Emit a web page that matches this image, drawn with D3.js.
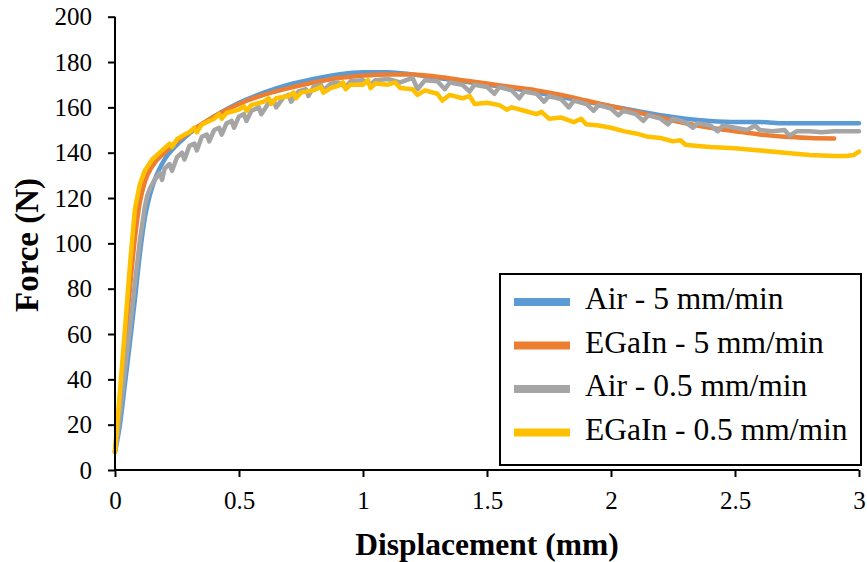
<!DOCTYPE html>
<html><head><meta charset="utf-8">
<script src="https://cdn.jsdelivr.net/npm/d3@7"></script>
<style>html,body{margin:0;padding:0;background:#fff;}svg{display:block;} svg text{font-family:"Liberation Serif","Times New Roman",Times,serif !important;}</style>
</head><body>
<svg id="chart" width="867" height="562"></svg>
<script>
const seriesNames = ["Air - 5 mm/min", "EGaIn - 5 mm/min", "Air - 0.5 mm/min", "EGaIn - 0.5 mm/min"];
const seriesColors = ["#5B9BD5", "#ED7D31", "#A5A5A5", "#FFC000"];
const xTicks = [0, 0.5, 1, 1.5, 2, 2.5, 3];
const yTicks = [0, 20, 40, 60, 80, 100, 120, 140, 160, 180, 200];

const airFast = [[0,8],[0.02,20],[0.04,38],[0.06,56],[0.08,75],[0.10,95],[0.12,111],[0.14,121],[0.16,128],[0.18,133],[0.2,137],[0.25,143.5],[0.3,148.5],[0.4,156],[0.5,162],[0.6,166.5],[0.7,170],[0.8,172.5],[0.9,174.5],[1.0,175.5],[1.1,175.5],[1.2,174.5],[1.3,173],[1.4,171.5],[1.5,170],[1.6,168.5],[1.7,166.5],[1.8,164.5],[1.9,162.5],[2.0,160.5],[2.1,158.5],[2.2,156.5],[2.3,155],[2.4,154],[2.5,153.5],[2.6,153.5],[2.7,153],[2.8,153],[2.9,153],[3.0,153]];
const egainFast = [[0,8],[0.02,30],[0.04,55],[0.06,80],[0.08,102],[0.10,118],[0.12,127],[0.15,134],[0.2,140],[0.25,145],[0.3,149],[0.4,156],[0.5,161.5],[0.6,165.5],[0.7,168.5],[0.8,171],[0.9,173],[1.0,174],[1.1,174.5],[1.2,174.5],[1.3,173.5],[1.4,172],[1.5,170.5],[1.6,169],[1.7,167.5],[1.8,165.5],[1.9,163],[2.0,160.5],[2.1,158],[2.2,155.5],[2.3,153],[2.4,151],[2.5,149.5],[2.6,148],[2.7,147],[2.8,146.5],[2.9,146.3]];
const airSlow = [[0,8],[0.02,24],[0.04,44],[0.06,62],[0.08,82],[0.10,101],[0.12,116],[0.13,121],[0.14,124],[0.16,128],[0.18,131],[0.19,128],[0.2,133],[0.22,135],[0.23,132],[0.25,138],[0.27,140],[0.28,137],[0.3,143],[0.32,144],[0.33,141],[0.35,147],[0.37,148],[0.38,145],[0.4,150],[0.42,151],[0.43,148],[0.45,153],[0.47,154],[0.48,151],[0.5,156],[0.52,157],[0.53,154],[0.55,158.5],[0.58,160],[0.59,157],[0.62,162],[0.64,163],[0.65,160],[0.68,164.5],[0.7,165.5],[0.71,162.5],[0.74,167],[0.77,168],[0.78,165],[0.8,169],[0.83,170],[0.84,167.5],[0.87,170.5],[0.9,171],[0.93,169],[0.95,171.5],[1.0,172],[1.03,170],[1.05,172],[1.1,172.5],[1.15,171],[1.2,173],[1.22,168],[1.25,172],[1.3,171.5],[1.33,168],[1.35,171],[1.4,170],[1.43,167],[1.45,170],[1.5,169],[1.53,166],[1.55,169],[1.6,167.5],[1.63,164],[1.65,167],[1.7,166],[1.73,162.5],[1.75,165],[1.8,163.5],[1.83,160],[1.85,163],[1.9,161.5],[1.93,158.5],[1.95,161],[2.0,159.5],[2.03,156.5],[2.05,158.5],[2.1,157],[2.13,154],[2.15,156.5],[2.2,155],[2.23,152.5],[2.25,155],[2.3,153.5],[2.33,151],[2.35,153],[2.4,152],[2.43,149.5],[2.45,152],[2.5,151],[2.55,150],[2.58,152],[2.6,150],[2.65,149.5],[2.7,150],[2.72,147.5],[2.75,149.5],[2.8,149.5],[2.85,149],[2.9,149.5],[3.0,149.5]];
const egainSlow = [[0,8],[0.02,35],[0.04,62],[0.06,90],[0.08,115],[0.1,126],[0.12,132],[0.15,137],[0.18,140],[0.2,142],[0.22,144],[0.23,142.5],[0.25,146],[0.28,148],[0.3,149],[0.32,151],[0.33,149],[0.35,152.5],[0.38,154],[0.4,155],[0.42,157],[0.43,155],[0.45,157.5],[0.5,159],[0.52,160.5],[0.53,158.5],[0.55,161],[0.6,162.5],[0.62,164],[0.63,161.5],[0.65,164],[0.7,165],[0.72,166.5],[0.73,164],[0.75,166.5],[0.8,167.5],[0.83,169],[0.84,166.5],[0.87,168.5],[0.9,169.5],[0.92,171],[0.93,168],[0.95,170],[1.0,170],[1.02,172],[1.03,168.5],[1.05,170.5],[1.1,170],[1.13,171],[1.15,168.5],[1.2,168],[1.22,165.5],[1.25,167.5],[1.3,166],[1.32,163],[1.35,165.5],[1.4,164],[1.43,165],[1.45,161.5],[1.5,162],[1.55,161],[1.58,159],[1.6,160],[1.65,158.5],[1.7,157],[1.72,158],[1.75,155],[1.8,155.5],[1.85,153.5],[1.88,155],[1.9,152.5],[1.95,152],[2.0,151],[2.05,149.5],[2.1,148.5],[2.15,147],[2.2,146.5],[2.25,145],[2.28,145.5],[2.3,143.5],[2.35,143],[2.4,142.5],[2.5,142],[2.6,141],[2.7,140],[2.8,139],[2.9,138.5],[2.95,138.5],[2.98,139],[3.0,140.5]];

const allSeries = [airFast, egainFast, airSlow, egainSlow];

const svg = d3.select("#chart");
const mLeft = 115, mRight = 859, mTop = 16.7, mBottom = 470;
const x = d3.scaleLinear().domain([0, 3]).range([mLeft, mRight]);
const y = d3.scaleLinear().domain([0, 200]).range([mBottom, mTop]);
const serif = "Liberation Serif";

// lines
const line = d3.line().x(d => x(d[0])).y(d => y(d[1]));
allSeries.forEach((s, i) => {
  svg.append("path").datum(s)
    .attr("fill", "none")
    .attr("stroke", seriesColors[i])
    .attr("stroke-width", 4.5)
    .attr("stroke-linejoin", "round")
    .attr("stroke-linecap", "round")
    .attr("d", line.curve(i < 2 ? d3.curveMonotoneX : d3.curveLinear));
});

// axes
const xAxis = svg.append("g").attr("transform", `translate(0,${mBottom})`)
  .call(d3.axisBottom(x).tickValues(xTicks).tickSize(7).tickPadding(14).tickFormat(d => d3.format("")(d)));
const yAxis = svg.append("g").attr("transform", `translate(${mLeft},0)`)
  .call(d3.axisLeft(y).tickValues(yTicks).tickSize(7).tickPadding(16));
[xAxis, yAxis].forEach(g => {
  g.attr("font-family", serif);
  g.select(".domain").attr("stroke", "#000").attr("stroke-width", 2);
  g.selectAll(".tick line").attr("stroke", "#000").attr("stroke-width", 2);
  g.selectAll("text").style("font-family", serif).attr("font-size", 25).attr("fill", "#000");
});
xAxis.select(".domain").attr("d", `M${mLeft},0H${mRight}`);
yAxis.select(".domain").attr("d", `M0,${mBottom}V${mTop}`);

// titles
svg.append("text").attr("x", 487).attr("y", 555)
  .attr("text-anchor", "middle").style("font-family", serif)
  .attr("font-weight", "bold").attr("font-size", 31.5).text("Displacement (mm)");
svg.append("text").attr("transform", "translate(38,245) rotate(-90)")
  .attr("text-anchor", "middle").style("font-family", serif)
  .attr("font-weight", "bold").attr("font-size", 33).text("Force (N)");

// legend
const lg = svg.append("g");
lg.append("rect").attr("x", 500).attr("y", 274).attr("width", 361).attr("height", 191)
  .attr("fill", "#fff").attr("stroke", "#000").attr("stroke-width", 2);
seriesNames.forEach((name, i) => {
  const cy = 302 + i * 43.5;
  lg.append("line").attr("x1", 514).attr("x2", 570).attr("y1", cy).attr("y2", cy)
    .attr("stroke", seriesColors[i]).attr("stroke-width", 8);
  lg.append("text").attr("x", 585).attr("y", cy + 7)
    .style("font-family", serif).attr("font-size", 31.5).attr("fill", "#000").text(name);
});
</script>
</body></html>
